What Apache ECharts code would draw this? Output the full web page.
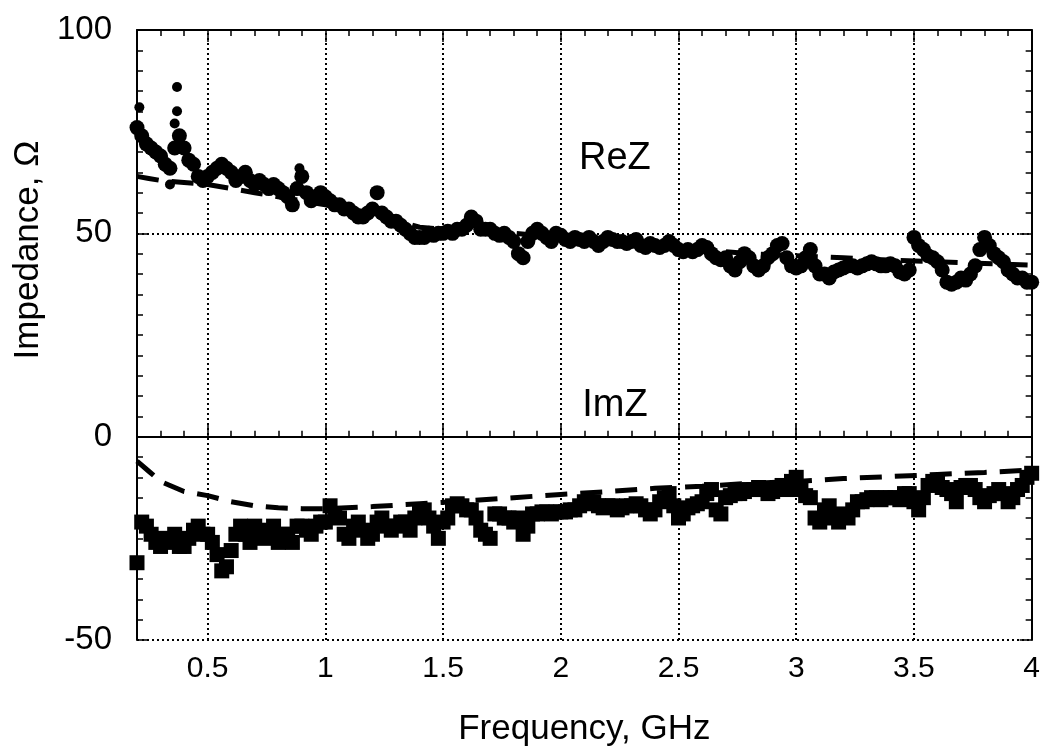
<!DOCTYPE html>
<html><head><meta charset="utf-8">
<script src="https://cdn.jsdelivr.net/npm/echarts@6/dist/echarts.min.js"></script>
<style>html,body{margin:0;padding:0;background:#fff}#c{width:1043px;height:756px}</style>
</head><body><div id="c"></div>
<script>
// measured samples every 0.02 GHz from 0.2 to 4.0
const fStart = 0.2, fStep = 0.02;
const reZ = [76,74,72,71,70,69,67,66,71,74,71,68,67,64,63,64,65,66,67,66,65,63,64,65,63,62,63,62,61,62,61,60,59,57,61,64,60,58,59,60,
59,58,57,57,56,56,55,54,54,55,56,60,55,54,53,53,52,51,50,49,49,49,50,49.5,50,50,50.5,50,51,51,52,54,53,51,51,51,50,49.5,50,49,
48,45,44,48,50,51,50,49,48,50,49.5,48.5,48,49,48.5,48,49,48,47,48,49,48.5,48,48,47.5,48,48.5,47,46.5,47.5,47,46.5,47,48,47,46,45.5,46,45.5,46,
47,46.5,45,44,43.5,44,42,41,43,45,44,42,41,42,44,45,47,47.5,44,42,41.5,42,44,46,42,40,40,39,40.5,41,41.5,42,42,41.5,42,42.5,43,42.5,42,42,
42.5,42,40.5,40,41,49,47,46,44.5,44,43,41,38,37.5,38,39,38.5,40,42,46,49,47,45,44,43,41,40,39,39,38,38];
const imZ = [-31,-21,-22,-24,-26,-27,-25,-26,-24,-27,-27,-25,-23,-22,-24,-24,-26,-29,-33,-32,-28,-24,-22,-24,-26,-22,-23,-25,-24,-22,-26,-24,-24,-26,-22,-22,-23,-24,-22,-21,
-21,-17,-19,-20,-24,-25,-22,-21,-23,-25,-24,-21,-20,-22,-23,-22,-21,-21,-23,-20,-18,-18,-20,-22,-25,-21,-20,-17,-16.5,-17,-18,-18,-20,-23,-24,-25,-19,-19,-20,-20,
-21,-20,-24,-22,-19,-19,-18.5,-18.5,-19,-18.5,-18.5,-18.5,-18,-18,-17,-16,-16.5,-16,-17,-17.5,-17,-17,-18,-17.5,-17,-17,-16.5,-17,-18,-19,-18,-16,-15,-14,-17,-20,-19,-17.5,-17,-16.5,
-16,-14,-13,-18,-19,-15,-14.5,-14,-14,-13.5,-13,-13,-12.5,-13,-14,-13.5,-12.5,-12,-13,-11,-10,-13,-14.5,-15,-20,-21,-18,-17,-20,-21,-19,-20,-18,-16,-16,-15.5,-15,-15,-15.5,-15,
-15,-15,-15.5,-14,-14,-16,-18,-15,-12,-11,-11.5,-12.5,-13,-14,-16,-12.5,-12,-12,-13,-15,-16,-14.5,-14,-13,-14,-16,-15,-13,-12,-10,-9];
// scattered outlier points of ReZ
const reOutF = [0.21,0.37,0.37,0.34,0.89,0.36];
const reOutV = [81,86,80,62,66,77];
// model curves (dashed)
const modelF = [0.2,0.25,0.3,0.4,0.5,0.6,0.7,0.8,0.9,1.0,1.2,1.4,1.6,1.8,2.0,2.2,2.4,2.6,2.8,3.0,3.2,3.4,3.6,3.8,4.0];
const reModel = [64,63.5,63,62.5,62,61,60,59,58,57,55,51.5,50.5,50,49,48,47,46,45,44.5,44,43.4,43,42.6,42.2];
const imModel = [-6,-8.5,-11,-13.5,-14.5,-16,-17,-17.5,-17.7,-17.7,-17.2,-16.5,-15.8,-15,-14.2,-13.5,-12.7,-12.2,-11.5,-11,-10.3,-9.8,-9.3,-8.8,-8.2];
// axis ticks
const xMajor = [0.5,1,1.5,2,2.5,3,3.5,4];
const xGrid = [0.5,1,1.5,2,2.5,3,3.5];
const annoF = [2.23,2.23];
const annoV = [68.5,7.6];
const annoText = ['ReZ','ImZ'];

const pair = (arr) => arr.map((v,i)=>[+(fStart+fStep*i).toFixed(2), v]);
const FONT = 'Liberation Sans';
const black = '#000';
const baseX = {type:'value', min:0.2, max:4, gridIndex:0};
const chart = echarts.init(document.getElementById('c'));
chart.setOption({
  animation:false,
  backgroundColor:'#fff',
  grid:{left:137, right:11, top:30, bottom:116},
  xAxis:[
    Object.assign({}, baseX, {position:'bottom', interval:0.1,
      axisLine:{show:true, lineStyle:{color:black, width:2}},
      axisTick:{show:true, inside:true, length:6, lineStyle:{color:black, width:1.5}},
      axisLabel:{show:false}, splitLine:{show:false}}),
    Object.assign({}, baseX, {position:'bottom',
      axisLine:{show:false},
      axisTick:{show:true, inside:true, length:12, customValues:xMajor, lineStyle:{color:black, width:1.5}},
      axisLabel:{show:true, customValues:xMajor, color:black, fontFamily:FONT, fontSize:30, margin:14,
        formatter:(v)=>String(+v.toFixed(1))},
      splitLine:{show:false},
      name:'Frequency, GHz', nameLocation:'middle', nameGap:72,
      nameTextStyle:{color:black, fontFamily:FONT, fontSize:35}}),
    Object.assign({}, baseX, {position:'top', interval:0.1,
      axisLine:{show:true, lineStyle:{color:black, width:2}},
      axisTick:{show:true, inside:true, length:6, lineStyle:{color:black, width:1.5}},
      axisLabel:{show:false}, splitLine:{show:false}}),
    Object.assign({}, baseX, {position:'top',
      axisLine:{show:false},
      axisTick:{show:true, inside:true, length:12, customValues:xMajor, lineStyle:{color:black, width:1.5}},
      axisLabel:{show:false}, splitLine:{show:false}})
  ],
  yAxis:[
    {type:'value', min:-50, max:100, interval:50, position:'left',
      axisLine:{show:true, lineStyle:{color:black, width:2}},
      axisTick:{show:true, inside:true, length:12, lineStyle:{color:black, width:1.5}},
      minorTick:{show:true, splitNumber:10, length:6, lineStyle:{color:black, width:1.5}},
      axisLabel:{color:black, fontFamily:FONT, fontSize:33, margin:25},
      splitLine:{show:true, lineStyle:{color:black, width:2, type:[2,3]}},
      name:'Impedance, Ω', nameLocation:'middle', nameGap:90, nameRotate:90,
      nameTextStyle:{color:black, fontFamily:FONT, fontSize:35, padding:[0,0,0,170]}},
    {type:'value', min:-50, max:100, interval:50, position:'right',
      axisLine:{show:true, lineStyle:{color:black, width:2}},
      axisTick:{show:true, inside:true, length:12, lineStyle:{color:black, width:1.5}},
      minorTick:{show:true, splitNumber:10, length:6, lineStyle:{color:black, width:1.5}},
      axisLabel:{show:false}, splitLine:{show:false}}
  ],
  series:[
    {type:'line', data:[], xAxisIndex:0, yAxisIndex:0, z:1, silent:true,
      markLine:{symbol:'none', silent:true, label:{show:false},
        lineStyle:{color:black, width:2, type:[2,3]},
        data:xGrid.map(v=>({xAxis:v}))}},
    {name:'ReZ model', type:'line', data:modelF.map((f,i)=>[f,reModel[i]]), symbol:'none', z:2,
      lineStyle:{color:black, width:5, type:[22,13]}},
    {name:'ImZ model', type:'line', data:modelF.map((f,i)=>[f,imModel[i]]), symbol:'none', z:2,
      lineStyle:{color:black, width:5, type:[22,13]}},
    {name:'ReZ', type:'scatter', data:pair(reZ), symbol:'circle', symbolSize:15, z:3,
      itemStyle:{color:black, opacity:1}},
    {name:'ReZ out', type:'scatter', data:reOutF.map((f,i)=>[f,reOutV[i]]), symbol:'circle', symbolSize:10, z:3,
      itemStyle:{color:black, opacity:1}},
    {name:'ImZ', type:'scatter', data:pair(imZ), symbol:'rect', symbolSize:15, z:3,
      itemStyle:{color:black, opacity:1}},
    {type:'scatter', data:annoF.map((f,i)=>[f,annoV[i],annoText[i]]), symbolSize:0, z:4, silent:true,
      itemStyle:{opacity:1},
      label:{show:true, position:'inside', formatter:(p)=>p.data[2], color:black, fontFamily:FONT, fontSize:38}}
  ]
});
</script></body></html>
